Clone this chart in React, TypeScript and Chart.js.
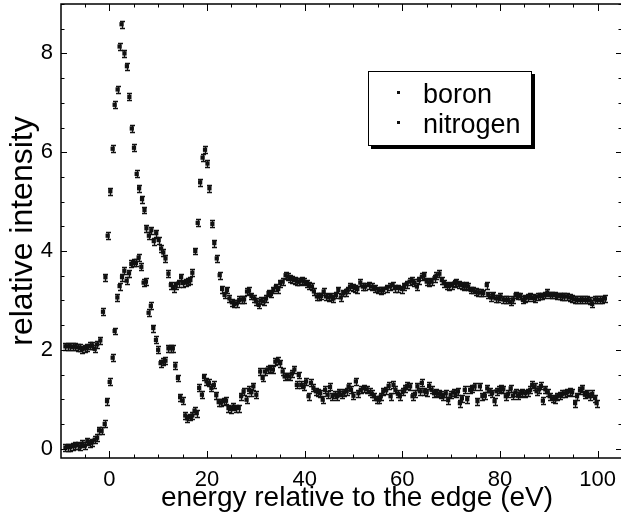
import { useEffect, useRef } from "react";
import { Chart, registerables } from "chart.js";

Chart.register(...registerables);

const seriesNames = ["boron", "nitrogen"];
const xTitle = "energy relative to the edge (eV)";
const yTitle = "relative intensity";

const boronEnergy = [
  -9.0, -8.5, -8.0, -7.5, -7.0, -6.5, -6.0, -5.5, -5.0, -4.5, -4.0, -3.5, -3.0, -2.5, -1.85, -1.3, -0.8, -0.34,
  0.2, 0.68, 1.09, 1.7, 2.1, 2.5, 3.1, 3.6, 4.1, 4.6, 5.05, 5.6, 6.1, 6.7, 7.2, 7.6, 8.1, 8.6, 9.1, 9.6, 10.1,
  10.6, 11.05, 11.5, 12.1, 12.6, 13.2, 13.6, 14.2, 14.7, 15.1, 15.7, 16.1, 16.6, 17.0, 17.6, 18.1, 18.6, 19.1,
  19.6, 20.1, 20.5, 21.1, 21.5, 22.0, 22.6, 23.1, 23.6, 24.1, 24.6, 25.1, 25.6, 26.1, 26.6, 27.2, 27.6, 28.2,
  28.6, 29.1, 29.7, 30.1, 30.6, 31.0, 31.6, 32.1, 32.6, 33.1, 33.6, 34.1, 34.6, 35.0, 35.5, 36.1, 36.5, 37.0,
  37.5, 38.0, 38.5, 38.9, 39.4, 39.9, 40.5, 40.9, 41.5, 41.9, 42.5, 43.0, 43.4, 43.9, 44.4, 44.9, 45.4, 45.9,
  46.4, 46.9, 47.4, 47.9, 48.4, 48.8, 49.3, 49.9, 50.3, 50.8, 51.4, 51.9, 52.4, 53.1, 53.75, 54.4, 55.1, 55.6,
  56.1, 56.8, 57.5, 58.0, 58.5, 59.2, 59.9, 60.4, 60.9, 61.5, 62.0, 62.5, 63.0, 63.4, 64.0, 64.5, 65.0, 65.5,
  66.0, 66.6, 67.0, 67.6, 68.1, 68.5, 69.1, 69.6, 70.2, 70.7, 71.1, 71.7, 72.2, 72.6, 73.0, 73.5, 74.0, 74.55,
  75.0, 75.6, 76.05, 76.6, 77.3, 77.6, 78.2, 78.6, 79.1, 79.6, 80.1, 80.7, 81.2, 81.7, 82.2, 82.7, 83.2, 83.7,
  84.2, 84.7, 85.2, 85.7, 86.2, 86.7, 87.2, 87.7, 88.2, 88.7, 89.2, 89.7, 90.2, 90.7, 91.3, 91.7, 92.3, 92.8,
  93.2, 93.8, 94.3, 94.8, 95.4, 95.8, 96.4, 96.9, 97.4, 97.9, 98.4, 98.9, 99.4, 99.9, 100.5, 101.0, 101.5,
];
const boronIntensity = [
  2.07, 2.07, 2.07, 2.06, 2.07, 2.05, 2.04, 2.01, 2.03, 2.05, 2.08, 2.09, 2.02, 2.11, 2.19, 2.77, 3.47, 4.31,
  5.21, 6.07, 6.96, 7.27, 8.14, 8.59, 8.0, 7.74, 7.12, 6.48, 6.09, 5.56, 5.27, 5.05, 4.83, 4.46, 4.31, 4.42, 4.2, 4.36, 4.22,
  4.05, 3.97, 3.85, 3.54, 3.31, 3.25, 3.31, 3.35, 3.47, 3.35, 3.36, 3.38, 3.41, 3.56, 4.0, 4.57, 5.39, 5.89,
  6.05, 5.77, 5.27, 4.55, 4.16, 3.85, 3.51, 3.23, 3.11, 3.21, 3.04, 2.96, 2.93, 2.94, 3.01, 3.02, 3.02, 3.18,
  3.2, 3.09, 3.04, 2.98, 2.91, 3.0, 2.98, 3.04, 3.15, 3.13, 3.21, 3.27, 3.23, 3.35, 3.38, 3.51, 3.48, 3.45,
  3.43, 3.41, 3.38, 3.38, 3.4, 3.38, 3.35, 3.31, 3.28, 3.18, 3.08, 3.08, 3.09, 3.18, 3.08, 3.06, 3.08, 3.04,
  3.11, 3.21, 3.06, 3.15, 3.16, 3.21, 3.28, 3.27, 3.25, 3.23, 3.36, 3.28, 3.28, 3.31, 3.28, 3.25, 3.21, 3.2,
  3.21, 3.25, 3.28, 3.31, 3.25, 3.25, 3.23, 3.29, 3.33, 3.38, 3.4, 3.36, 3.28, 3.41, 3.48, 3.51, 3.38, 3.36,
  3.38, 3.45, 3.5, 3.54, 3.41, 3.35, 3.31, 3.29, 3.31, 3.35, 3.36, 3.33, 3.31, 3.28, 3.31, 3.28, 3.21, 3.21,
  3.18, 3.16, 3.16, 3.15, 3.31, 3.11, 3.06, 3.11, 3.04, 3.04, 3.08, 3.02, 3.01, 3.01, 2.97, 3.02, 3.11, 3.09,
  3.09, 3.01, 3.04, 3.06, 3.09, 3.06, 3.04, 3.08, 3.09, 3.09, 3.11, 3.16, 3.11, 3.11, 3.11, 3.09, 3.09, 3.08,
  3.08, 3.08, 3.06, 3.04, 3.02, 3.01, 3.01, 3.02, 3.01, 3.01, 3.0, 2.93, 3.02, 3.01, 3.01, 3.01, 3.04,
];

const nitrogenEnergy = [
  -9.0, -8.5, -8.0, -7.5, -7.0, -6.5, -6.0, -5.5, -5.0, -4.5, -4.0, -3.5, -3.0, -2.5, -2.1, -1.6, -0.95, -0.47,
  0.07, 0.68, 1.09, 1.64, 2.1, 2.6, 3.07, 3.55, 4.03, 4.5, 4.97, 5.45, 6.0, 6.55, 7.02, 7.5, 8.04, 8.5, 9.0,
  9.55, 10.0, 10.5, 11.05, 11.5, 12.1, 12.6, 13.0, 13.5, 14.05, 14.5, 15.0, 15.55, 16.0, 16.5, 17.0, 17.45,
  17.9, 18.4, 18.97, 19.4, 19.9, 20.4, 20.9, 21.4, 21.9, 22.4, 22.9, 23.4, 23.9, 24.4, 24.9, 25.4, 25.9, 26.5,
  27.0, 27.5, 28.1, 28.6, 29.1, 29.5, 30.1, 30.9, 31.4, 31.9, 32.4, 32.9, 33.5, 34.0, 34.5, 35.0, 35.5, 35.9,
  36.4, 36.9, 37.4, 37.9, 38.4, 38.8, 39.3, 39.8, 40.3, 40.8, 41.3, 41.8, 42.3, 42.8, 43.2, 43.7, 44.2, 44.7,
  45.2, 45.7, 46.2, 46.7, 47.1, 47.6, 48.1, 48.6, 49.0, 49.5, 50.0, 50.5, 51.0, 51.5, 52.2, 52.7, 53.3, 53.75,
  54.2, 54.8, 55.25, 55.6, 56.1, 56.7, 57.2, 57.6, 58.2, 58.6, 59.1, 59.5, 60.1, 60.6, 61.0, 61.6, 62.1, 62.6,
  63.1, 63.6, 64.0, 64.5, 65.0, 65.5, 66.0, 66.5, 67.0, 67.5, 67.9, 68.4, 68.9, 69.4, 69.9, 70.5, 70.9, 71.4,
  71.8, 72.2, 72.8, 73.3, 73.9, 74.35, 74.8, 75.4, 75.9, 76.4, 76.9, 77.4, 77.9, 78.4, 78.9, 79.3, 79.8, 80.3,
  80.7, 81.2, 81.7, 82.2, 82.7, 83.2, 83.7, 84.2, 84.6, 85.2, 85.7, 86.2, 86.6, 87.1, 87.5, 88.0, 88.4, 88.8,
  89.3, 89.8, 90.2, 90.8, 91.3, 91.7, 92.3, 92.8, 93.3, 93.8, 94.3, 94.8, 95.4, 95.8, 96.4, 96.9, 97.4, 97.9,
  98.4, 98.9, 99.5, 99.8,
];
const nitrogenIntensity = [
  0.02, 0.03, 0.03, 0.05, 0.06, 0.07, 0.04, 0.1, 0.06, 0.15, 0.11, 0.13, 0.18, 0.22, 0.37, 0.36, 0.5, 0.96,
  1.35, 1.84, 2.38, 3.06, 3.29, 3.47, 3.6, 3.4, 3.55, 3.74, 3.76, 3.76, 3.87, 3.68, 3.36, 3.38, 2.75, 2.89, 2.44,
  2.2, 2.0, 1.73, 1.76, 1.78, 2.03, 2.03, 2.03, 1.68, 1.43, 1.04, 0.97, 0.67, 0.61, 0.64, 0.67, 0.77,
  0.72, 1.23, 1.09, 1.45, 1.36, 1.33, 1.23, 1.29, 1.08, 0.94, 0.93, 0.96, 0.97, 0.82, 0.8, 0.85, 0.82, 0.82,
  1.06, 1.16, 0.99, 1.19, 1.14, 1.26, 1.09, 1.56, 1.43, 1.56, 1.6, 1.63, 1.6, 1.76, 1.78, 1.73, 1.56, 1.46,
  1.47, 1.46, 1.52, 1.6, 1.29, 1.49, 1.29, 1.26, 1.36, 1.06, 1.33, 1.23, 1.16, 1.14, 1.12, 0.99, 1.19, 1.09,
  1.25, 1.06, 1.09, 1.06, 1.14, 1.09, 1.14, 1.16, 1.26, 1.19, 1.07, 1.36, 1.12, 1.19, 1.22, 1.2, 1.15, 1.11,
  1.06, 1.0, 0.99, 1.06, 1.16, 1.18, 1.27, 1.06, 1.29, 1.19, 1.11, 1.06, 1.16, 1.22, 1.27, 1.26, 1.06, 1.11,
  1.26, 1.16, 1.33, 1.16, 1.14, 1.27, 1.19, 1.12, 1.14, 1.11, 1.09, 1.06, 1.12, 0.98, 1.09, 1.14, 1.11, 1.16,
  0.92, 1.02, 1.19, 1.0, 1.19, 1.22, 1.26, 0.96, 1.26, 1.06, 1.07, 1.22, 1.16, 1.12, 0.96, 1.16, 1.19, 1.22,
  1.2, 1.06, 1.11, 1.22, 1.07, 1.14, 1.07, 1.12, 1.14, 1.12, 1.14, 1.19, 1.29, 1.26, 1.16, 1.2, 1.27, 0.97,
  1.2, 1.14, 1.06, 1.02, 1.0, 1.06, 1.07, 1.11, 1.12, 1.14, 1.16, 1.14, 0.92, 1.06, 1.18, 1.22, 1.09, 1.12,
  1.06, 1.11, 1.02, 0.92,
];

const boronError = 0.07;
const nitrogenError = 0.07;

const FONT = "'Liberation Sans', Arial, Helvetica, sans-serif";

const frameAndErrorPlugin = {
  id: "frameAndError",
  afterDatasetsDraw(chart: any) {
    const { ctx, scales } = chart;
    const y = scales.y;
    ctx.save();
    ctx.strokeStyle = "#111";
    ctx.lineWidth = 1.3;
    chart.data.datasets.forEach((ds: any, i: number) => {
      const meta = chart.getDatasetMeta(i);
      const err = ds.errorBar as number;
      meta.data.forEach((pt: any, j: number) => {
        const v = ds.data[j].y;
        const x0 = Math.round(pt.x) + 0.5;
        const yt = Math.round(y.getPixelForValue(v + err)) + 0.5;
        const yb = Math.round(y.getPixelForValue(v - err)) + 0.5;
        ctx.beginPath();
        ctx.moveTo(x0, yt);
        ctx.lineTo(x0, yb);
        ctx.moveTo(x0 - 2.5, yt);
        ctx.lineTo(x0 + 2.5, yt);
        ctx.moveTo(x0 - 2.5, yb);
        ctx.lineTo(x0 + 2.5, yb);
        ctx.stroke();
      });
    });
    ctx.restore();
  },
  afterDraw(chart: any) {
    const { ctx, chartArea: a, scales } = chart;
    const { x, y } = scales;
    ctx.save();
    ctx.strokeStyle = "#000";
    ctx.lineWidth = 1.5;
    ctx.strokeRect(a.left, a.top, a.right - a.left, a.bottom - a.top);
    ctx.lineWidth = 1;
    ctx.beginPath();
    for (let v = -5; v <= x.max; v += 5) {
      if (v < x.min) continue;
      const px = Math.round(x.getPixelForValue(v)) + 0.5;
      const len = v % 20 === 0 ? 7 : 3.5;
      ctx.moveTo(px, a.bottom);
      ctx.lineTo(px, a.bottom - len);
      ctx.moveTo(px, a.top);
      ctx.lineTo(px, a.top + len);
    }
    for (let k = 0; k <= 18; k++) {
      const v = k * 0.5;
      if (v > y.max) break;
      const py = Math.round(y.getPixelForValue(v)) + 0.5;
      const len = k % 4 === 0 ? 6 : 3.5;
      ctx.moveTo(a.left, py);
      ctx.lineTo(a.left + len, py);
      ctx.moveTo(a.right, py);
      ctx.lineTo(a.right - len, py);
    }
    ctx.stroke();
    ctx.fillStyle = "#000";
    ctx.font = `28px ${FONT}`;
    ctx.textAlign = "center";
    ctx.textBaseline = "middle";
    ctx.fillText(xTitle, 357, 498);
    ctx.restore();
  },
};

export default function App() {
  const ref = useRef<HTMLCanvasElement | null>(null);

  useEffect(() => {
    if (!ref.current) return;
    const mk = (ex: number[], iy: number[]) => ex.map((e, i) => ({ x: e, y: iy[i] }));
    const chart = new Chart(ref.current, {
      type: "scatter",
      data: {
        datasets: [
          {
            label: seriesNames[0],
            data: mk(boronEnergy, boronIntensity),
            errorBar: boronError,
            pointStyle: "rect",
            pointRadius: 3,
            backgroundColor: "#111",
            borderColor: "#111",
            borderWidth: 0,
          } as any,
          {
            label: seriesNames[1],
            data: mk(nitrogenEnergy, nitrogenIntensity),
            errorBar: nitrogenError,
            pointStyle: "rect",
            pointRadius: 3,
            backgroundColor: "#111",
            borderColor: "#111",
            borderWidth: 0,
          } as any,
        ],
      },
      options: {
        animation: false,
        responsive: false,
        layout: { padding: { left: 0, right: 8, top: 4, bottom: 0 } },
        plugins: { legend: { display: false }, tooltip: { enabled: false } },
        scales: {
          x: {
            type: "linear",
            min: -9.9,
            max: 105,
            grid: { display: false },
            border: { display: false },
            ticks: {
              stepSize: 20,
              includeBounds: false,
              maxRotation: 0,
              padding: 1,
              color: "#000",
              font: { family: FONT, size: 22 },
            },
            afterFit: (s: any) => {
              s.height = 67;
              s.paddingLeft = 0;
              s.paddingRight = 0;
            },
          },
          y: {
            type: "linear",
            min: -0.19,
            max: 9.0,
            grid: { display: false },
            border: { display: false },
            ticks: {
              stepSize: 2,
              includeBounds: false,
              padding: 0,
              color: "#000",
              font: { family: FONT, size: 22 },
            },
            title: {
              display: true,
              text: yTitle,
              color: "#000",
              font: { family: FONT, size: 32, lineHeight: 1.1 },
              padding: { top: 6, bottom: 0 },
            },
            afterFit: (s: any) => {
              s.width = 61;
              s.paddingTop = 0;
              s.paddingBottom = 0;
            },
          },
        },
      } as any,
      plugins: [frameAndErrorPlugin],
    });
    return () => chart.destroy();
  }, []);

  return (
    <div style={{ position: "absolute", left: 0, top: 0, width: 621, height: 525, overflow: "hidden", background: "#fff" }}>
      <canvas ref={ref} width={630} height={525} style={{ display: "block" }} />
      <div
        style={{
          position: "absolute",
          left: 368,
          top: 71,
          width: 162,
          height: 73,
          border: "1px solid #000",
          boxShadow: "3px 3px 0 #000",
          background: "#fff",
          fontFamily: FONT,
          fontSize: 27,
          color: "#000",
        }}
      >
        {seriesNames.map((n, i) => (
          <div key={n}>
            <div
              style={{
                position: "absolute",
                left: 28,
                top: 19 + i * 30,
                width: 3,
                height: 3,
                background: "#111",
              }}
            />
            <div
              style={{
                position: "absolute",
                left: 54,
                top: 7 + i * 30,
                lineHeight: "30px",
                whiteSpace: "nowrap",
              }}
            >
              {n}
            </div>
          </div>
        ))}
      </div>
    </div>
  );
}
